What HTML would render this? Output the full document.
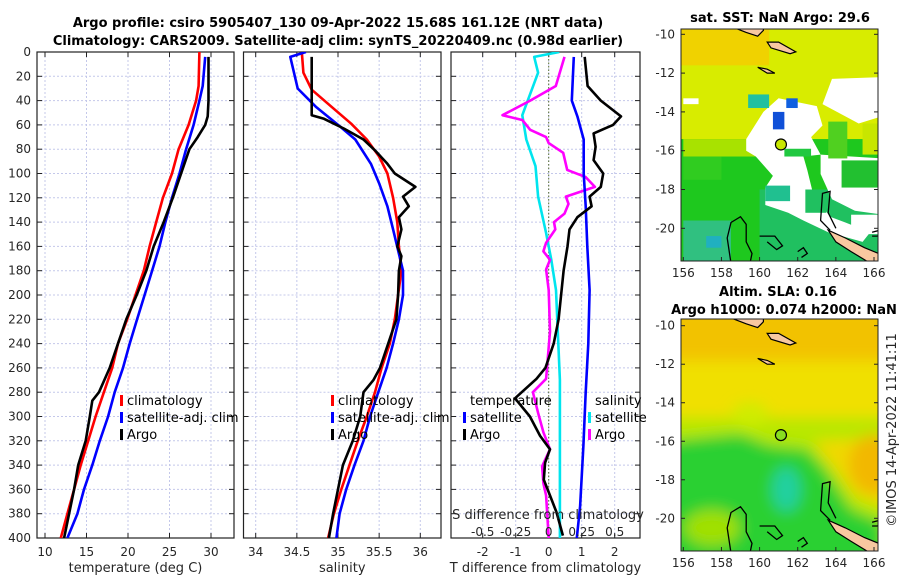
<!DOCTYPE html>
<html><head><meta charset="utf-8"><style>
html,body{margin:0;padding:0;background:#fff;width:900px;height:580px;overflow:hidden}
svg{display:block;font-family:"DejaVu Sans","Liberation Sans",sans-serif}
.tk{font-size:12px;fill:#262626}
.lg{font-size:13px;fill:#000}
.tt{font-size:13px;font-weight:bold;fill:#000}
</style></head><body>
<svg id="fig" width="900" height="580" viewBox="0 0 900 580">
<defs>
<clipPath id="c1"><rect x="37" y="52" width="197" height="486"/></clipPath>
<clipPath id="c2"><rect x="243.5" y="52" width="197.5" height="486"/></clipPath>
<clipPath id="c3"><rect x="451" y="52" width="189" height="486"/></clipPath>
<clipPath id="cm1"><rect x="681" y="29" width="197" height="232"/></clipPath>
<clipPath id="cm2"><rect x="681" y="319" width="197" height="232"/></clipPath>
<filter id="bl" x="-20%" y="-20%" width="140%" height="140%"><feGaussianBlur stdDeviation="7"/></filter>
</defs>
<text class="tt" x="338" y="27" text-anchor="middle">Argo profile: csiro 5905407_130 09-Apr-2022 15.68S 161.12E (NRT data)</text>
<text class="tt" x="338" y="45" text-anchor="middle">Climatology: CARS2009. Satellite-adj clim: synTS_20220409.nc (0.98d earlier)</text>
<g id="p1"></g>
<g id="p2"></g>
<g id="p3"></g>
<g id="m1"></g>
<g id="m2"></g>
<text class="tk" transform="translate(896,430) rotate(-90)" text-anchor="middle" style="font-size:13px">©IMOS 14-Apr-2022 11:41:11</text>
</svg>
<script>
// ---- data ----
const argoTDepth=[4,40,53,60,70,80,100,120,140,160,180,200,220,240,260,280,287,300,320,340,360,380,400];
const argoT=[29.7,29.7,29.6,29.3,28.4,27.4,26.4,25.4,24.3,23.1,22.2,21.05,19.8,18.8,17.8,16.5,15.7,15.4,14.9,14.0,13.5,12.9,12.3];
const climTDepth=[0,28,40,60,80,100,120,140,160,180,200,220,240,260,280,300,320,340,360,380,400];
const climT=[28.6,28.5,28.2,27.3,26.1,25.3,24.2,23.4,22.6,21.9,20.9,19.9,18.8,18.1,17.1,16.1,15.2,14.3,13.5,12.7,11.9];
const satTDepth=[4,28,40,60,80,100,120,140,160,180,200,220,240,260,280,300,320,340,360,380,400];
const satT=[29.3,29.0,28.6,27.9,27.0,26.2,25.3,24.5,23.8,22.9,22.0,21.1,20.2,19.4,18.4,17.6,16.6,15.7,14.7,13.9,12.7];
const argoSDepth=[4,52,55,63,72,81,92,100,111,119,127,136,146,160,168,180,200,220,240,260,270,280,300,320,340,360,380,400];
const argoS=[34.68,34.68,34.83,35.07,35.31,35.45,35.6,35.69,35.94,35.79,35.86,35.74,35.77,35.72,35.77,35.74,35.73,35.71,35.61,35.51,35.43,35.31,35.27,35.18,35.06,35.0,34.94,34.89];
const climSDepth=[0,17,31,45,59,72,86,100,120,140,160,180,200,220,240,260,280,300,320,340,360,380,400];
const climS=[34.56,34.58,34.68,34.92,35.16,35.35,35.5,35.6,35.67,35.72,35.74,35.77,35.73,35.69,35.63,35.53,35.45,35.35,35.24,35.14,35.04,34.95,34.88];
const satSDepth=[0,4,30,45,61,72,92,108,127,146,166,180,200,220,240,260,280,300,320,340,360,380,400];
const satS=[34.61,34.42,34.51,34.73,35.02,35.21,35.4,35.5,35.6,35.67,35.74,35.79,35.79,35.74,35.67,35.59,35.49,35.39,35.31,35.2,35.1,35.02,34.98];
const argoDTDepth=[4,28,40,53,60,67,78,89,100,111,119,127,136,146,160,180,196,220,240,260,269,285,300,316,327,338,352,365,379,398];
const argoDT=[1.09,1.18,1.58,2.19,1.95,1.36,1.42,1.36,1.65,1.58,1.24,1.3,0.87,0.63,0.57,0.45,0.39,0.3,0.15,-0.1,-0.37,-1.02,-0.57,-0.26,0.04,-0.11,-0.15,0.04,0.24,0.43];
const satDTDepth=[4,40,53,72,100,127,160,196,240,280,324,374,400];
const satDT=[0.76,0.7,0.87,1.06,1.06,1.12,1.17,1.24,1.2,1.12,1.05,0.95,0.85];
const argoDSDepth=[4,28,40,52,56,64,70,75,83,97,103,111,119,125,133,140,146,157,164,171,179,196,230,269,280,297,313,327,341,355,365,400];
const argoDS=[0.12,0.054,-0.14,-0.35,-0.2,-0.14,-0.02,0,0.11,0.14,0.28,0.35,0.13,0.15,0.12,0.04,0.05,-0.02,-0.04,0.01,-0.02,0,0.01,-0.02,-0.12,-0.08,-0.04,0.01,-0.05,-0.04,-0.02,0];
const satDSDepth=[0,4,17,52,72,94,119,149,171,196,270,400];
const satDS=[0.08,-0.11,-0.08,-0.2,-0.17,-0.1,-0.08,-0.02,0.02,0.055,0.085,0.085];
const depthTicks=[0,20,40,60,80,100,120,140,160,180,200,220,240,260,280,300,320,340,360,380,400];
const tTicks=[10,15,20,25,30];
const sTicks=[34,34.5,35,35.5,36];
const dTTicks=[-2,-1,0,1,2];
const dSTicks=[-0.5,-0.25,0,0.25,0.5];
const lonTicks=[156,158,160,162,164,166];
const latTicks=[-10,-12,-14,-16,-18,-20];

// ---- axis functions ----
const NS='http://www.w3.org/2000/svg';
const yD=d=>52+d*1.215;
const xT=t=>45+(t-10)*8.3;
const xS=s=>255.7+(s-34)*82.3;
const xDT=v=>548.7+v*33;
const xDS=v=>548.7+v*132;
function mk(tag,attrs,parent){const e=document.createElementNS(NS,tag);for(const k in attrs)e.setAttribute(k,attrs[k]);parent.appendChild(e);return e;}
function panel(g,L,R,clip,xticks,xf,depthLabels,title){
  const gr=mk('g',{'clip-path':'url(#'+clip+')'},g);
  
  
  depthTicks.forEach(d=>{mk('line',{x1:L,x2:R,y1:yD(d),y2:yD(d),stroke:'#c4c8ea','stroke-width':1,'stroke-dasharray':'2,2'},gr);});
  xticks.forEach(t=>{mk('line',{x1:xf(t),x2:xf(t),y1:52,y2:538,stroke:'#c4c8ea','stroke-width':1,'stroke-dasharray':'2,2'},gr);});
  const ax=mk('g',{},g);
  
  
  mk('rect',{x:L,y:52,width:R-L,height:486,fill:'none',stroke:'#222','stroke-width':1.2},ax);
  depthTicks.forEach(d=>{mk('line',{x1:L,x2:L+5,y1:yD(d),y2:yD(d),stroke:'#222'},ax);mk('line',{x1:R-5,x2:R,y1:yD(d),y2:yD(d),stroke:'#222'},ax);
    if(depthLabels){const t=mk('text',{x:L-6,y:yD(d)+4,'text-anchor':'end',class:'tk'},ax);t.textContent=d;
    
    }});
  xticks.forEach(v=>{mk('line',{x1:xf(v),x2:xf(v),y1:533,y2:538,stroke:'#222'},ax);mk('line',{x1:xf(v),x2:xf(v),y1:52,y2:57,stroke:'#222'},ax);
    const t=mk('text',{x:xf(v),y:556,'text-anchor':'middle',class:'tk'},ax);t.textContent=v;
    
    });
  const tl=mk('text',{x:(L+R)/2,y:572,'text-anchor':'middle',class:'tk',style:'font-size:13px'},g);tl.textContent=title;
  
  
}
function line(g,clip,depths,vals,xf,color,name){
  const pts=vals.map((v,i)=>xf(v).toFixed(1)+','+yD(depths[i]).toFixed(1)).join(' ');
  const p=mk('polyline',{points:pts,fill:'none',stroke:color,'stroke-width':2.6,'stroke-linejoin':'round','clip-path':'url(#'+clip+')'},g);
  
  
}
function legend(g,x,y,color,label,name){
  if(color){mk('rect',{x:x-7,y:y-10,width:3,height:11,fill:color},g);}
  const t=mk('text',{x:x,y:y,class:'lg'},g);t.textContent=label;
  
  
}
const p1=document.getElementById('p1'),p2=document.getElementById('p2'),p3=document.getElementById('p3');
panel(p1,37,234,'c1',tTicks,xT,true,'temperature (deg C)');
line(p1,'c1',climTDepth,climT,xT,'#ff0000','climatology-temperature-line');
line(p1,'c1',satTDepth,satT,xT,'#0000ff','satellite-temperature-line');
line(p1,'c1',argoTDepth,argoT,xT,'#000000','argo-temperature-line');
legend(p1,127,405,'#ff0000','climatology','legend-climatology');
legend(p1,127,422,'#0000ff','satellite-adj. clim','legend-satellite');
legend(p1,127,439,'#000000','Argo','legend-argo');

panel(p2,243.5,441,'c2',sTicks,xS,false,'salinity');
line(p2,'c2',climSDepth,climS,xS,'#ff0000','climatology-salinity-line');
line(p2,'c2',satSDepth,satS,xS,'#0000ff','satellite-salinity-line');
line(p2,'c2',argoSDepth,argoS,xS,'#000000','argo-salinity-line');
legend(p2,338,405,'#ff0000','climatology','legend-climatology');
legend(p2,338,422,'#0000ff','satellite-adj. clim','legend-satellite');
legend(p2,338,439,'#000000','Argo','legend-argo');

panel(p3,451,640,'c3',dTTicks,xDT,false,'T difference from climatology');
const zl=mk('line',{x1:xDT(0),x2:xDT(0),y1:52,y2:538,stroke:'#556b2f','stroke-width':1,'stroke-dasharray':'1.5,2'},p3);


line(p3,'c3',satDSDepth,satDS,xDS,'#00e5ee','salinity-satellite-diff-line');
line(p3,'c3',argoDSDepth,argoDS,xDS,'#ff00ff','salinity-argo-diff-line');
line(p3,'c3',satDTDepth,satDT,xDT,'#0000ff','temperature-satellite-diff-line');
line(p3,'c3',argoDTDepth,argoDT,xDT,'#000000','temperature-argo-diff-line');
legend(p3,470,405,null,'temperature','legend-temperature-header');
legend(p3,470,422,'#0000ff','satellite','legend-temp-satellite');
legend(p3,470,439,'#000000','Argo','legend-temp-argo');
legend(p3,595,405,null,'salinity','legend-salinity-header');
legend(p3,595,422,'#00e5ee','satellite','legend-sal-satellite');
legend(p3,595,439,'#ff00ff','Argo','legend-sal-argo');
const st=mk('text',{x:548,y:519,'text-anchor':'middle',class:'tk',style:'font-size:13px'},p3);st.textContent='S difference from climatology';


dSTicks.forEach(v=>{const t=mk('text',{x:xDS(v),y:536,'text-anchor':'middle',class:'tk'},p3);t.textContent=String(v);
  
  });

// ---- maps ----
function map(g,top,bottom,yLat,clip,kind){
  const mx=l=>683.3+(l-156)*19.07;
  const my=yLat;
  const P=a=>a.map(p=>mx(p[0]).toFixed(1)+','+my(p[1]).toFixed(1)).join(' ');
  const R=(l1,a1,l2,a2,c,par)=>mk('rect',{x:mx(l1),y:my(a1),width:mx(l2)-mx(l1),height:my(a2)-my(a1),fill:c},par||f);
  const f=mk('g',{'clip-path':'url(#'+clip+')'},g);
  
  
  if(kind==='sst'){
    R(155,-9,167,-23,'#1ec81e');
    R(155,-9,167,-15.4,'#d8ec00');
    R(155,-9,160.5,-11.6,'#f0d200');
    R(156,-15.4,160,-16.3,'#a8e200');
    R(156,-16.3,158,-17.5,'#30cc20');
    R(156,-19.6,158.5,-22,'#30c080');
    R(157.2,-20.4,158,-21,'#20b0c0');
    R(160,-18,167,-23,'#20c060');
    mk('polygon',{points:P([[159.3,-15.4],[160.2,-14],[161,-13.3],[163,-13.7],[163.3,-14.7],[162.7,-15.3],[163.2,-16.2],[162.3,-16.3],[162.5,-17],[162.8,-18.2],[163.7,-19.4],[164.5,-19.7],[165.8,-20.2],[165.4,-20.7],[163.6,-20.2],[162.3,-19.6],[161.5,-19.2],[160.3,-18.8],[160.3,-17.9],[160.7,-17.3],[159.8,-16.3],[159.3,-16]]),fill:'#ffffff'},f);
    mk('polygon',{points:P([[163.2,-16.2],[166.5,-16.4],[166.5,-19.3],[165,-19.1],[163.8,-18.5],[163.2,-17.2]]),fill:'#ffffff'},f);
    mk('polygon',{points:P([[163.8,-12.3],[166.5,-12.2],[166.5,-14.2],[165.2,-14.6],[163.3,-13.6]]),fill:'#ffffff'},f);
    R(163.6,-14.5,164.6,-16.4,'#50d020');R(164.3,-16.5,166.2,-17.9,'#22c030');R(165.4,-14.6,166.3,-16.2,'#c8e600');
    R(161.3,-15.9,162.7,-16.3,'#20c840');R(160.3,-17.8,161.6,-18.6,'#20c090');R(162.4,-18,163.5,-19.2,'#20c060');
    R(160.7,-14,161.3,-14.9,'#1050d8');R(161.4,-13.3,162,-13.8,'#1060e0');R(159.4,-13.1,160.5,-13.8,'#20c0a0');
    R(156,-13.3,156.8,-13.6,'#ffffff');R(164.8,-19.3,166.5,-20.3,'#ffffff');
  } else {
    R(155,-9,167,-23,'#f0e000');
    const b=mk('g',{filter:'url(#bl)'},f);
    R(155,-9,167,-11.8,'#f2c200',b);
    R(155,-14.8,167,-23,'#b8e800',b);
    mk('polygon',{points:P([[155,-16],[159,-15.6],[160.5,-16.2],[162.5,-16.4],[163.5,-17.5],[164.8,-19.5],[166.5,-20.2],[166.5,-23],[155,-23]]),fill:'#2cd030'},b);
    mk('polygon',{points:P([[162.8,-16],[166.8,-15.8],[166.8,-19.5],[165,-18.8]]),fill:'#f0d800'},b);
    mk('ellipse',{cx:mx(166),cy:my(-17.2),rx:25,ry:30,fill:'#f2b800'},b);
    mk('ellipse',{cx:mx(161.4),cy:my(-18.5),rx:14,ry:22,fill:'#20d0a0'},b);
    mk('ellipse',{cx:mx(157.5),cy:my(-20.5),rx:28,ry:18,fill:'#a0e000'},b);
    mk('ellipse',{cx:mx(159.5),cy:my(-14.6),rx:18,ry:12,fill:'#d0ec00'},b);
  }
  const land=[[[158.5,-9.6],[159.3,-9.9],[159.9,-10.1],[160.2,-9.8],[160.2,-9.6]],[[160.4,-10.4],[161,-10.4],[161.9,-10.9],[161.6,-11],[160.6,-10.7]],[[159.9,-11.7],[160.4,-11.8],[160.8,-12],[160.4,-12]],[[163.6,-20.1],[164.5,-20.5],[165.5,-21],[166.5,-21.4],[166.5,-21.8],[165.8,-21.8],[164.8,-21.2],[164,-20.7]]];
  land.forEach(a=>{const p=mk('polygon',{points:P(a),fill:'#f8c8a0',stroke:'#000','stroke-width':1.2},f);
    
    });
  const cont=[[[158.5,-21.8],[158.3,-20.5],[158.5,-19.7],[159,-19.4],[159.3,-19.8],[159.3,-20.7],[159.6,-21.3],[159.5,-21.8]],[[160,-20.4],[160.8,-20.4],[161.2,-20.9],[160.9,-21.1],[160.4,-20.7]],[[162,-21.2],[162.3,-21],[162.5,-21.3],[162.2,-21.5]],[[163.7,-20.1],[163.2,-19.6],[163.3,-18.2],[163.7,-18.1],[163.6,-19.2],[164,-20]],[[165.9,-20.2],[166.3,-20.1],[166.2,-20.4],[165.9,-20.4]]];
  cont.forEach(a=>{const p=mk('polyline',{points:P(a),fill:'none',stroke:'#000','stroke-width':1.3},f);
    
    });
  const c=mk('circle',{cx:mx(161.12),cy:my(-15.68),r:5.5,fill:kind==='sst'?'#c8e800':'#88dd20',stroke:'#000','stroke-width':1.2},f);
  
  
  mk('rect',{x:681,y:top,width:197,height:bottom-top,fill:'none',stroke:'#222','stroke-width':1},g);
  lonTicks.forEach(l=>{const t=mk('text',{x:mx(l),y:bottom+16,'text-anchor':'middle',class:'tk'},g);t.textContent=l;
    
    
    mk('line',{x1:mx(l),x2:mx(l),y1:bottom-4,y2:bottom,stroke:'#222'},g);});
  latTicks.forEach(a=>{const t=mk('text',{x:675,y:my(a)+4,'text-anchor':'end',class:'tk'},g);t.textContent=a;
    
    
    mk('line',{x1:681,x2:685,y1:my(a),y2:my(a),stroke:'#222'},g);mk('line',{x1:874,x2:878,y1:my(a),y2:my(a),stroke:'#222'},g);});
}
const m1=document.getElementById('m1'),m2=document.getElementById('m2');
map(m1,29,261,a=>34.3+(-10-a)*19.4,'cm1','sst');
map(m2,319,551,a=>325.7+(-10-a)*19.26,'cm2','sla');
function ttl(g,x,y,s,n){const t=mk('text',{x:x,y:y,'text-anchor':'middle',class:'tt'},g);t.textContent=s;
  
  }
ttl(m1,780,22,'sat. SST: NaN Argo: 29.6','sst-map-title');
ttl(m2,778,296,'Altim. SLA: 0.16','sla-map-title');
ttl(m2,784,314,'Argo h1000: 0.074 h2000: NaN','argo-height-title');
</script>
</body></html>
